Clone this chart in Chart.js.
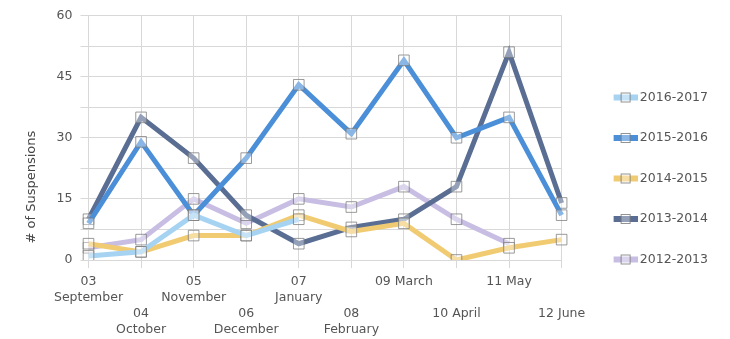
<!DOCTYPE html>
<html>
<head>
<meta charset="utf-8">
<script src="https://cdn.jsdelivr.net/npm/chart.js@4.4.1/dist/chart.umd.min.js"></script>
<style>
  html, body { margin: 0; background: #fff; }
  #wrap { width: 730px; height: 339px; }
</style>
</head>
<body>
<div id="wrap"><canvas id="myChart"></canvas></div>
<script>
// tick labels: week number + month name
const weekNums = ['03', '04', '05', '06', '07', '08', '09', '10', '11', '12'];
const monthNames = ['September', 'October', 'November', 'December', 'January',
                    'February', 'March', 'April', 'May', 'June'];
const twoLine = [true, true, true, true, true, true, false, false, false, false];

const seasons = ['2016-2017', '2015-2016', '2014-2015', '2013-2014', '2012-2013'];
const s2016_17 = [1, 2, 11, 6, 10, null, null, null, null, null];
const s2015_16 = [9, 29, 11, 25, 43, 31, 49, 30, 35, 11];
const s2014_15 = [4, 2, 6, 6, 11, 7, 9, 0, 3, 5];
const s2013_14 = [10, 35, 25, 11, 4, 8, 10, 18, 51, 14];
const s2012_13 = [3, 5, 15, 9, 15, 13, 18, 10, 4, null];

const colors = ['#a6d3f2', '#4a8fd8', '#f1cb72', '#5a6d93', '#c8bde3'];
const values = [s2016_17, s2015_16, s2014_15, s2013_14, s2012_13];

const FONT = 'DejaVu Sans';

// staggered labels: odd ones pushed to a second row
let labels = weekNums.map((n, i) => {
    let lines = twoLine[i] ? [n, monthNames[i]] : [n + ' ' + monthNames[i]];
    return i % 2 === 0 ? lines : ['', ''].concat(lines);
});

// legend swatch: thick line with a square marker, drawn right-aligned in the image
function legendIcon(color) {
    let c = document.createElement('canvas');
    c.width = 52;
    c.height = 12;
    let ctx = c.getContext('2d');
    ctx.fillStyle = color;
    ctx.fillRect(28, 3, 24, 6);
    ctx.fillStyle = 'rgba(255,255,255,0.35)';
    ctx.fillRect(35.5, 1.5, 9, 9);
    ctx.strokeStyle = 'rgba(120,120,120,0.8)';
    ctx.lineWidth = 1;
    ctx.strokeRect(35.5, 1.5, 9, 9);
    return c;
}

let datasets = seasons.map((s, i) => ({
    label: s,
    data: values[i],
    borderColor: colors[i],
    backgroundColor: colors[i],
    borderWidth: 5,
    tension: 0,
    pointStyle: 'rect',
    pointRadius: 7.5,
    pointHoverRadius: 7.5,
    pointBackgroundColor: 'rgba(255,255,255,0.35)',
    pointBorderColor: 'rgba(120,120,120,0.75)',
    pointBorderWidth: 1,
}));

new Chart(document.getElementById('myChart'), {
    type: 'line',
    data: { labels: labels, datasets: datasets },
    options: {
        responsive: true,
        maintainAspectRatio: false,
        animation: false,
        layout: { padding: { left: 24, right: 12, top: 13, bottom: -5 } },
        plugins: {
            tooltip: { enabled: false },
            legend: {
                position: 'right',
                labels: {
                    usePointStyle: true,
                    pointStyleWidth: 44,
                    padding: 28,
                    color: '#555',
                    font: { family: FONT, size: 12.5 },
                    generateLabels(chart) {
                        return chart.data.datasets.map((ds, i) => ({
                            text: ds.label,
                            pointStyle: legendIcon(ds.borderColor),
                            fillStyle: ds.borderColor,
                            strokeStyle: ds.borderColor,
                            lineWidth: 0,
                            hidden: false,
                            datasetIndex: i,
                            fontColor: '#555',
                        }));
                    }
                }
            }
        },
        scales: {
            x: {
                offset: false,
                grid: { color: '#d8d8d8', tickLength: 8 },
                border: { color: '#d8d8d8' },
                ticks: {
                    color: '#555',
                    maxRotation: 0,
                    autoSkip: false,
                    padding: 6,
                    font: { family: FONT, size: 12.5, lineHeight: 1.28 }
                }
            },
            y: {
                min: 0,
                max: 60,
                grid: { color: '#d8d8d8', tickLength: 8 },
                border: { color: '#d8d8d8' },
                ticks: {
                    stepSize: 7.5,
                    color: '#555',
                    padding: 8,
                    font: { family: FONT, size: 12.5 },
                    callback: v => (v % 15 === 0 ? v : '')
                },
                title: {
                    display: true,
                    text: '    # of Suspensions',
                    align: 'start',
                    color: '#444',
                    padding: { top: 0, bottom: 9 },
                    font: { family: FONT, size: 13 }
                }
            }
        }
    }
});
</script>
</body>
</html>
